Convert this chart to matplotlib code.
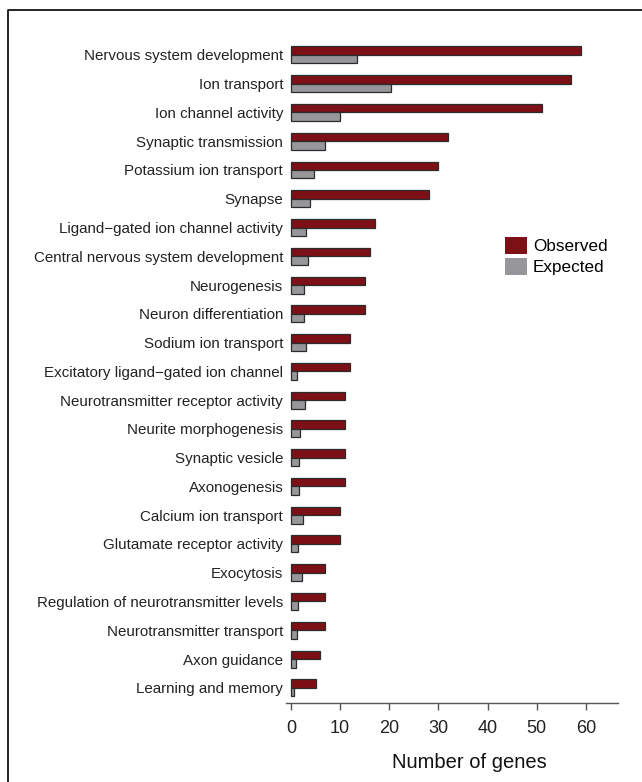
import matplotlib
matplotlib.use("Agg")
import matplotlib.pyplot as plt
from matplotlib.lines import Line2D
from matplotlib.patches import Patch
import numpy as np

plt.rcParams['font.family'] = ['Liberation Sans', 'DejaVu Sans']

# GO categories (top to bottom)
categories = [
    'Nervous system development',
    'Ion transport',
    'Ion channel activity',
    'Synaptic transmission',
    'Potassium ion transport',
    'Synapse',
    'Ligand\u2212gated ion channel activity',
    'Central nervous system development',
    'Neurogenesis',
    'Neuron differentiation',
    'Sodium ion transport',
    'Excitatory ligand\u2212gated ion channel',
    'Neurotransmitter receptor activity',
    'Neurite morphogenesis',
    'Synaptic vesicle',
    'Axonogenesis',
    'Calcium ion transport',
    'Glutamate receptor activity',
    'Exocytosis',
    'Regulation of neurotransmitter levels',
    'Neurotransmitter transport',
    'Axon guidance',
    'Learning and memory',
]
observed = [59, 57, 51, 32, 30, 28, 17, 16, 15, 15, 12, 12, 11, 11, 11, 11, 10, 10, 7, 7, 7, 6, 5]
expected = [13.5, 20.4, 10.0, 6.9, 4.7, 3.9, 3.1, 3.5, 2.7, 2.6, 3.0, 1.3, 2.9, 1.8, 1.6, 1.6, 2.4, 1.4, 2.2, 1.4, 1.3, 1.0, 0.6]
xticks = [0, 10, 20, 30, 40, 50, 60]

red = '#7d1016'
grey = '#97979b'
edge = '#2b2b2b'

fig = plt.figure(figsize=(6.42, 7.82), dpi=100)
ax = fig.add_axes([0.4455, 0.1006, 0.5171, 0.8586])

y = np.arange(len(categories))
h = 0.295
ax.barh(y - h / 2, observed, height=h, color=red, edgecolor=edge, linewidth=0.9)
ax.barh(y + h / 2, expected, height=h, color=grey, edgecolor=edge, linewidth=0.9)

ax.set_yticks(y)
ax.set_yticklabels(categories, fontsize=10.9, color='#222222')
ax.tick_params(axis='y', length=0, pad=2)
ax.set_ylim(22.54, -0.8)

ax.set_xlim(-1, 66.5)
ax.set_xticks(xticks)
ax.tick_params(axis='x', length=5, width=1, color='#555555', labelsize=13,
               labelcolor='#222222', pad=7)
ax.set_xlabel('Number of genes', fontsize=14.5, color='#111111')
ax.xaxis.set_label_coords(0.551, -0.074)

for s in ['top', 'right', 'left']:
    ax.spines[s].set_visible(False)
ax.spines['bottom'].set_color('#555555')
ax.spines['bottom'].set_linewidth(1)

handles = [Patch(facecolor=red, edgecolor='none'), Patch(facecolor=grey, edgecolor='none')]
fig.legend(handles, ['Observed', 'Expected'], loc='upper left',
           bbox_to_anchor=(0.786, 0.697), frameon=False, fontsize=12.3,
           handlelength=1.3, handleheight=1.15, handletextpad=0.35,
           labelspacing=0.2, borderaxespad=0, borderpad=0)

# frame border (left and top only visible)
fx = 8 / 642
fy = 1 - 10 / 782
fig.add_artist(Line2D([fx, fx, 1.0], [0.0, fy, fy], transform=fig.transFigure,
                      color='black', linewidth=1.2))

fig.savefig('out.png', dpi=100)
